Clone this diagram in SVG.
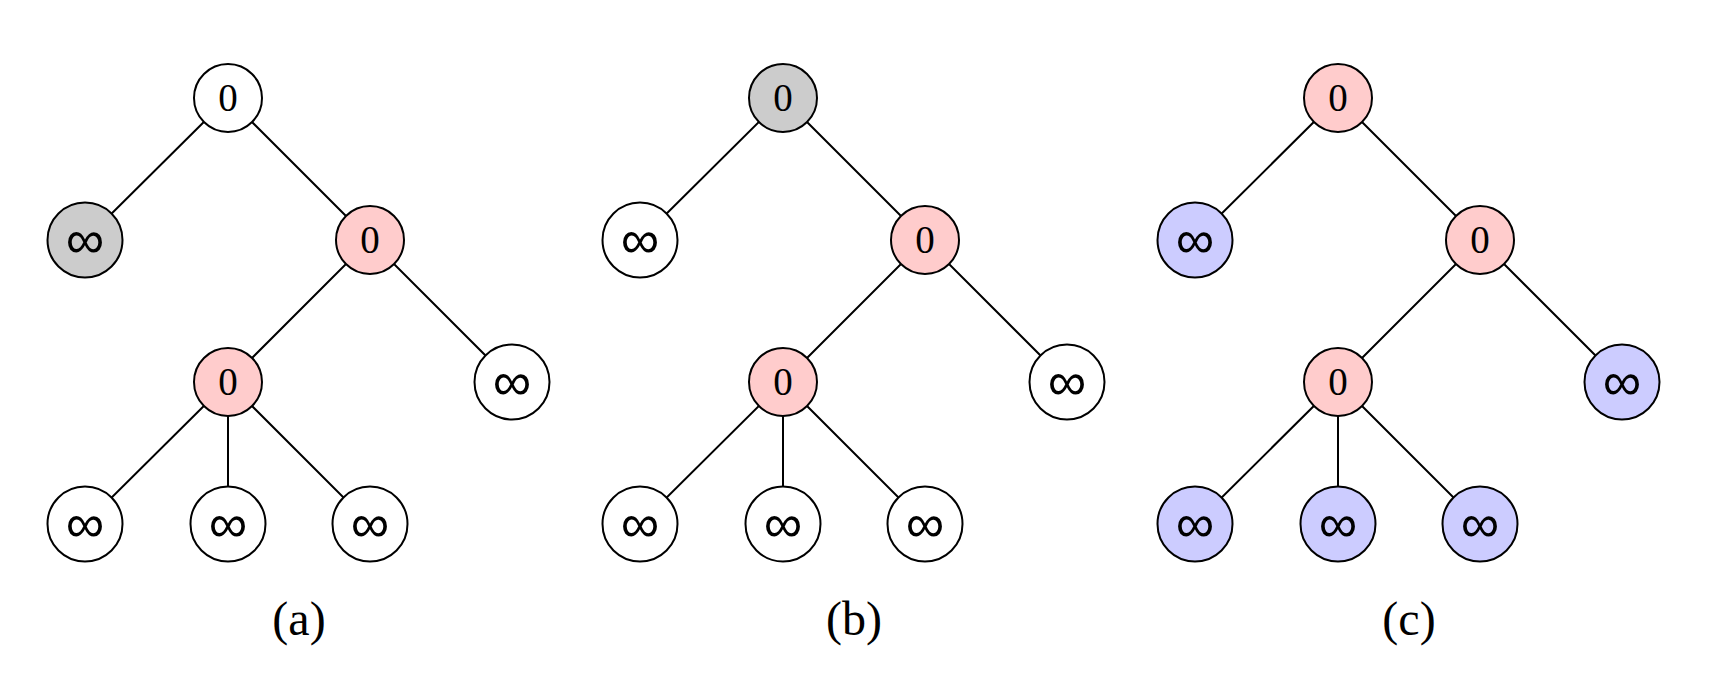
<svg xmlns="http://www.w3.org/2000/svg" width="1713" height="680" viewBox="0 0 1713 680">
<style>
.n{stroke:#000;stroke-width:2}
.w{fill:#fff}.g{fill:#ccc}.p{fill:#ffcccc}.b{fill:#ccccff}
.e{stroke:#000;stroke-width:2;fill:none}
.z{font-family:"Liberation Serif",serif;font-size:39px;text-anchor:middle}
.i{font-family:"DejaVu Sans",sans-serif;font-weight:200;font-size:54px;text-anchor:middle}
.l{font-family:"Liberation Serif",serif;font-size:48px;text-anchor:middle}
</style>
<rect width="1713" height="680" fill="#fff"/>
<g id="edges">
<path class="e" d="M228 98L85 240M228 98L370 240M370 240L228 382M370 240L512 382M228 382L85 524M228 382L228 524M228 382L370 524"/>
<path class="e" d="M783 98L640 240M783 98L925 240M925 240L783 382M925 240L1067 382M783 382L640 524M783 382L783 524M783 382L925 524"/>
<path class="e" d="M1338 98L1195 240M1338 98L1480 240M1480 240L1338 382M1480 240L1622 382M1338 382L1195 524M1338 382L1338 524M1338 382L1480 524"/>
</g>
<g id="a-root"><circle class="n w" cx="228" cy="98" r="34"/><text class="z" x="228" y="111">0</text></g>
<g id="a-l1"><circle class="n g" cx="85" cy="240" r="37.5"/><text class="i" x="85" y="257.5">∞</text></g>
<g id="a-r1"><circle class="n p" cx="370" cy="240" r="34"/><text class="z" x="370" y="253">0</text></g>
<g id="a-m2"><circle class="n p" cx="228" cy="382" r="34"/><text class="z" x="228" y="395">0</text></g>
<g id="a-r2"><circle class="n w" cx="512" cy="382" r="37.5"/><text class="i" x="512" y="399.5">∞</text></g>
<g id="a-c1"><circle class="n w" cx="85" cy="524" r="37.5"/><text class="i" x="85" y="541.5">∞</text></g>
<g id="a-c2"><circle class="n w" cx="228" cy="524" r="37.5"/><text class="i" x="228" y="541.5">∞</text></g>
<g id="a-c3"><circle class="n w" cx="370" cy="524" r="37.5"/><text class="i" x="370" y="541.5">∞</text></g>
<text id="label-a" class="l" x="299" y="635">(a)</text>

<g id="b-root"><circle class="n g" cx="783" cy="98" r="34"/><text class="z" x="783" y="111">0</text></g>
<g id="b-l1"><circle class="n w" cx="640" cy="240" r="37.5"/><text class="i" x="640" y="257.5">∞</text></g>
<g id="b-r1"><circle class="n p" cx="925" cy="240" r="34"/><text class="z" x="925" y="253">0</text></g>
<g id="b-m2"><circle class="n p" cx="783" cy="382" r="34"/><text class="z" x="783" y="395">0</text></g>
<g id="b-r2"><circle class="n w" cx="1067" cy="382" r="37.5"/><text class="i" x="1067" y="399.5">∞</text></g>
<g id="b-c1"><circle class="n w" cx="640" cy="524" r="37.5"/><text class="i" x="640" y="541.5">∞</text></g>
<g id="b-c2"><circle class="n w" cx="783" cy="524" r="37.5"/><text class="i" x="783" y="541.5">∞</text></g>
<g id="b-c3"><circle class="n w" cx="925" cy="524" r="37.5"/><text class="i" x="925" y="541.5">∞</text></g>
<text id="label-b" class="l" x="854" y="635">(b)</text>

<g id="c-root"><circle class="n p" cx="1338" cy="98" r="34"/><text class="z" x="1338" y="111">0</text></g>
<g id="c-l1"><circle class="n b" cx="1195" cy="240" r="37.5"/><text class="i" x="1195" y="257.5">∞</text></g>
<g id="c-r1"><circle class="n p" cx="1480" cy="240" r="34"/><text class="z" x="1480" y="253">0</text></g>
<g id="c-m2"><circle class="n p" cx="1338" cy="382" r="34"/><text class="z" x="1338" y="395">0</text></g>
<g id="c-r2"><circle class="n b" cx="1622" cy="382" r="37.5"/><text class="i" x="1622" y="399.5">∞</text></g>
<g id="c-c1"><circle class="n b" cx="1195" cy="524" r="37.5"/><text class="i" x="1195" y="541.5">∞</text></g>
<g id="c-c2"><circle class="n b" cx="1338" cy="524" r="37.5"/><text class="i" x="1338" y="541.5">∞</text></g>
<g id="c-c3"><circle class="n b" cx="1480" cy="524" r="37.5"/><text class="i" x="1480" y="541.5">∞</text></g>
<text id="label-c" class="l" x="1409" y="635">(c)</text>
</svg>
